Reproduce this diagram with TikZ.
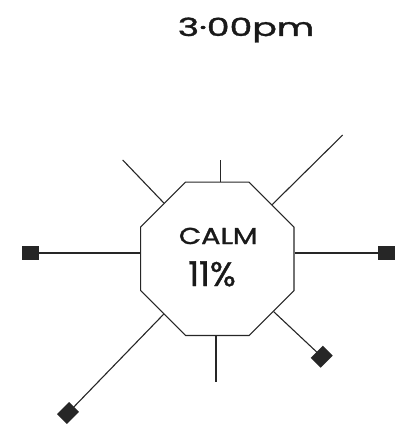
\documentclass[tikz,border=0pt]{standalone}
\usepackage{fontspec}
\setmainfont{Poppins}[FakeBold=1.2]
\usetikzlibrary{shapes.geometric}
\begin{document}
\begin{tikzpicture}[x=1pt,y=-1pt,
  ink/.style={draw=black!85,line width=1.1pt},
  octa/.style={ink,regular polygon,regular polygon sides=8,minimum size=166pt,inner sep=0pt},
  endbox/.style={fill=black!85,draw=none,minimum width=17pt,minimum height=14pt,inner sep=0pt},
  tilted/.style={endbox,rotate=45},
  spoke/.style={ink},
  lbl/.style={anchor=base,inner sep=0pt,text=black!90}]
\useasboundingbox (0,0) rectangle (394,425);
% title
\node[lbl,font=\fontsize{25}{25}\selectfont] (title) at (246,36) {\scalebox{1.45}[1]{3·00pm}};
% central octagon
\node[octa] (oct) at (217.3,258.8) {};
\node[lbl,font=\fontsize{23}{23}\selectfont] (calm) at (218.3,244) {\scalebox{1.25}[1]{CALM}};
\node[lbl,font=\fontsize{34}{34}\selectfont] (pct) at (212,286) {11\%};
% spoke ends
\coordinate (nw) at (122.7,160);
\coordinate (n) at (220.7,160);
\coordinate (ne) at (342.7,135);
\coordinate (s) at (216,381.7);
\node[endbox] (w) at (30.5,253) {};
\node[endbox] (e) at (386,253) {};
\node[tilted] (sw) at (68,413) {};
\node[tilted] (se) at (321.7,356.7) {};
% spokes
\draw[spoke] (nw) -- (oct);
\draw[spoke] (ne) -- (oct);
\draw[spoke] (n) -- (n |- oct.north);
\draw[spoke] (s) -- (s |- oct.south);
\draw[spoke] (w.center) -- (w.center -| oct.west);
\draw[spoke] (e.center) -- (e.center -| oct.east);
\draw[spoke] (sw.center) -- (oct);
\draw[spoke] (se.center) -- (oct);
\end{tikzpicture}
\end{document}
